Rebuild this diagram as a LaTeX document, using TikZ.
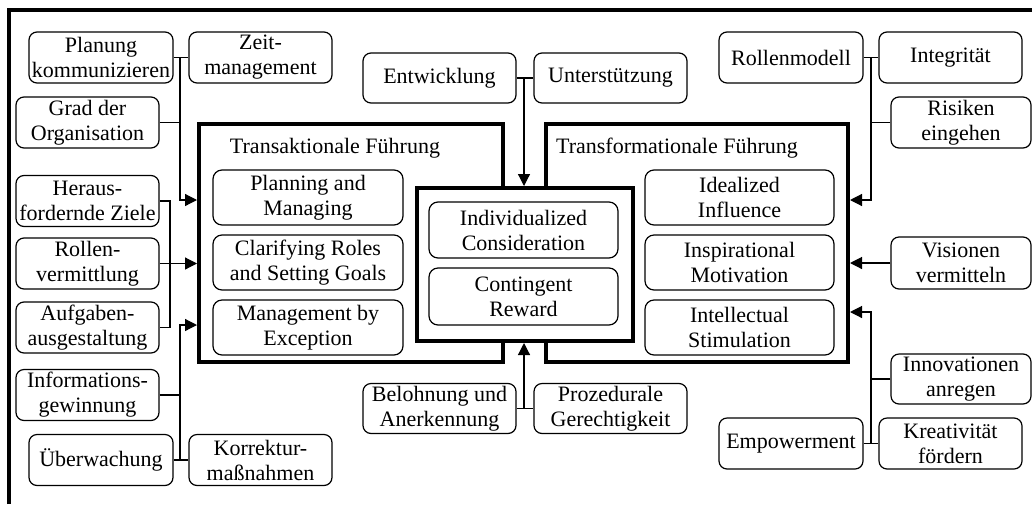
\documentclass[tikz,border=0pt]{standalone}
\usepackage{fontspec}
\setmainfont{Liberation Serif}
\usetikzlibrary{arrows.meta}
\begin{document}
\begin{tikzpicture}[x=1pt,y=-1pt,
  font=\fontsize{22}{25}\selectfont,
  sbox/.style={draw,line width=1.2pt,rounded corners=8pt,align=center,inner sep=0pt,
    minimum width=144pt,minimum height=51pt},
  wbox/.style={sbox,minimum width=153pt,minimum height=50pt},
  ebox/.style={sbox,minimum width=140pt},
  ibox/.style={draw,line width=1.2pt,rounded corners=9pt,align=center,inner sep=0pt,
    minimum width=190pt,minimum height=55pt},
  frame/.style={draw,line width=4pt,inner sep=0pt},
  conn/.style={line width=1.2pt},
  arr/.style={line width=1.2pt,-{Triangle[length=12pt,width=12pt]}}]
\useasboundingbox (0,0) rectangle (1032,504);
% outer frame
\draw[line width=3.5pt] (9,504) -- (9,10) -- (1032,10);
% big frames
\node[frame,minimum width=304pt,minimum height=238pt] (ta) at (351,243) {};
\node[frame,minimum width=302pt,minimum height=238pt] (tf) at (697,243) {};
\node[frame,fill=white,minimum width=216pt,minimum height=153pt] (ctr) at (525,264.5) {};
\node (tat) at (335,148) {Transaktionale Führung};
\node (tft) at (677,148) {Transformationale Führung};
% inner boxes
\node[ibox] (pm) at (308,197.5) {Planning and\\Managing};
\node[ibox] (cr) at (308,262.5) {Clarifying Roles\\and Setting Goals};
\node[ibox] (mbe) at (308,327.5) {Management by\\Exception};
\node[ibox,minimum width=189pt,minimum height=56pt] (ic) at (523.5,230) {Individualized\\Consideration};
\node[ibox,minimum width=189pt,minimum height=57pt] (cw) at (523.5,296.5) {Contingent\\Reward};
\node[ibox,minimum width=189pt] (ii) at (739.5,197.5) {Idealized\\Influence};
\node[ibox,minimum width=189pt] (im) at (739.5,262.5) {Inspirational\\Motivation};
\node[ibox,minimum width=189pt] (is) at (739.5,327.5) {Intellectual\\Stimulation};
% left boxes
\node[sbox] (plan) at (101,57.5) {Planung\\kommunizieren};
\node[sbox,minimum width=143pt] (zeit) at (260.5,57.5) {Zeit-\\management};
\node[sbox,minimum width=143pt] (grad) at (87.5,122.5) {Grad der\\Organisation};
\node[sbox,minimum width=143pt] (herau) at (87.5,201) {Heraus-\\fordernde Ziele};
\node[sbox,minimum width=143pt] (rollen) at (87.5,263.5) {Rollen-\\vermittlung};
\node[sbox,minimum width=143pt] (aufg) at (87.5,327.5) {Aufgaben-\\ausgestaltung};
\node[sbox,minimum width=143pt] (info) at (87.5,395) {Informations-\\gewinnung};
\node[sbox] (ueber) at (101,460) {Überwachung};
\node[sbox,minimum width=143pt] (korr) at (260.5,460) {Korrektur-\\maßnahmen};
% center boxes
\node[wbox] (entw) at (439.5,78) {Entwicklung};
\node[wbox] (unter) at (610.5,78) {Unterstützung};
\node[wbox] (belo) at (439.5,408.5) {Belohnung und\\Anerkennung};
\node[wbox] (proz) at (610.5,408.5) {Prozedurale\\Gerechtigkeit};
% right boxes
\node[sbox] (rm) at (791,57.5) {Rollenmodell};
\node[sbox,minimum width=143pt] (integ) at (950.5,57.5) {Integrität};
\node[ebox] (risk) at (961,122.5) {Risiken\\eingehen};
\node[ebox,minimum height=52pt] (vis) at (961,263) {Visionen\\vermitteln};
\node[ebox,minimum height=50pt] (innov) at (961,379) {Innovationen\\anregen};
\node[sbox] (emp) at (791,443.5) {Empowerment};
\node[sbox,minimum width=143pt] (kreat) at (950.5,443.5) {Kreativität\\fördern};
% junction coordinates
\coordinate (jA) at (180,200);
\coordinate (jB) at (170,200);
\coordinate (jC) at (180,325);
\coordinate (jT) at (524,78);
\coordinate (jU) at (524,408.5);
\coordinate (jR) at (871,200);
\coordinate (jS) at (871,312);
% left connectors
\draw[conn] (plan.east) -- (zeit.west);
\draw[arr] (plan.east -| jA) -- (jA) -- (jA -| ta.west);
\draw[conn] (grad.east) -- (grad.east -| jA);
\draw[conn] (herau.east) -- (herau.east -| jB) -- (aufg.east -| jB) -- (aufg.east);
\draw[arr] (rollen.east) -- (rollen.east -| ta.west);
\draw[conn] (ueber.east) -- (korr.west);
\draw[arr] (ueber.east -| jC) -- (jC) -- (jC -| ta.west);
\draw[conn] (info.east) -- (info.east -| jC);
% center connectors
\draw[conn] (entw.east) -- (unter.west);
\draw[arr] (jT) -- (jT |- ctr.north);
\draw[conn] (belo.east) -- (proz.west);
\draw[arr] (jU) -- (jU |- ctr.south);
% right connectors
\draw[conn] (rm.east) -- (integ.west);
\draw[arr] (rm.east -| jR) -- (jR) -- (jR -| tf.east);
\draw[conn] (risk.west) -- (risk.west -| jR);
\draw[arr] (vis.west) -- (vis.west -| tf.east);
\draw[conn] (emp.east) -- (kreat.west);
\draw[arr] (emp.east -| jS) -- (jS) -- (jS -| tf.east);
\draw[conn] (innov.west) -- (innov.west -| jS);
\end{tikzpicture}
\end{document}
